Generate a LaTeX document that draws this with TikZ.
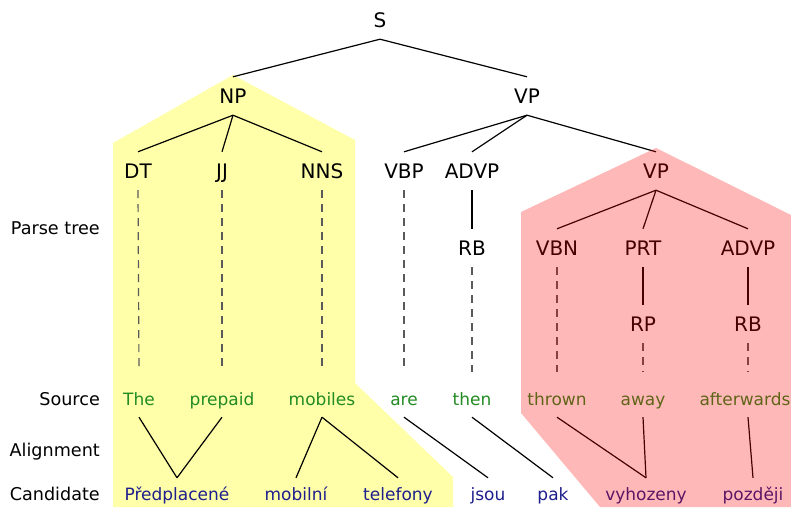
\documentclass[tikz,border=0pt]{standalone}
\usepackage{fontspec}
\setmainfont{DejaVu Sans}
\definecolor{srcgreen}{RGB}{34,139,34}
\definecolor{candblue}{RGB}{30,30,140}
\definecolor{yelfill}{RGB}{255,255,170}
\definecolor{dashgray}{RGB}{90,90,90}
\tikzset{
  tn/.style={font=\fontsize{20}{24}\selectfont, inner sep=0pt, text height=14.6pt, text depth=0pt, minimum height=38pt},
  src/.style={font=\fontsize{17}{20}\selectfont, text=srcgreen, inner sep=0pt, text height=12.4pt, text depth=0pt, minimum height=36pt},
  cand/.style={font=\fontsize{17}{20}\selectfont, text=candblue, inner sep=0pt, text height=12.4pt, text depth=0pt, minimum height=32pt},
  rowlab/.style={font=\fontsize{17.6}{21}\selectfont, anchor=east, inner sep=0pt, text height=12.8pt, text depth=0pt},
  treeedge/.style={line width=1.2pt},
  alignedge/.style={line width=1.2pt},
  dsh/.style={draw=dashgray, line width=1.2pt, dash pattern=on 8pt off 6pt},
}
\begin{document}
\begin{tikzpicture}[x=1pt,y=-1pt]
\useasboundingbox (0,0) rectangle (791,510);
% yellow region (behind)
\fill[yelfill] (233,75) -- (113,143) -- (113,507) -- (453,507) -- (453,477) -- (355,383) -- (355,140) -- cycle;
% tree nodes
\node[tn] (S) at (380,20) {S};
\node[tn] (NP) at (233,96) {NP};
\node[tn] (VP) at (527,96) {VP};
\node[tn] (DT) at (138,171) {DT};
\node[tn] (JJ) at (222,171) {JJ};
\node[tn] (NNS) at (322,171) {NNS};
\node[tn] (VBP) at (404,171) {VBP};
\node[tn] (ADVP) at (472,171) {ADVP};
\node[tn] (VPb) at (656,171) {VP};
\node[tn] (RB) at (472,248) {RB};
\node[tn] (VBN) at (557,248) {VBN};
\node[tn] (PRT) at (643,248) {PRT};
\node[tn] (ADVPb) at (748,248) {ADVP};
\node[tn] (RP) at (643,324) {RP};
\node[tn] (RBb) at (748,324) {RB};
% source words
\node[src] (w1) at (139,399) {The};
\node[src] (w2) at (222,399) {prepaid};
\node[src] (w3) at (322,399) {mobiles};
\node[src] (w4) at (404,399) {are};
\node[src] (w5) at (472,399) {then};
\node[src] (w6) at (557,399) {thrown};
\node[src] (w7) at (643,399) {away};
\node[src] (w8) at (745,399) {afterwards};
% candidate words
\node[cand] (c1) at (177,494) {Předplacené};
\node[cand] (c2) at (296,494) {mobilní};
\node[cand] (c3) at (398,494) {telefony};
\node[cand] (c4) at (488,494) {jsou};
\node[cand] (c5) at (553,494) {pak};
\node[cand] (c6) at (646,494) {vyhozeny};
\node[cand] (c7) at (753,494) {později};
% row labels
\node[rowlab] (l1) at (100,228) {Parse tree};
\node[rowlab] (l2) at (100,399) {Source};
\node[rowlab] (l3) at (100,450) {Alignment};
\node[rowlab] (l4) at (100,494) {Candidate};
% tree edges
\draw[treeedge] (S.south) -- (NP.north);
\draw[treeedge] (S.south) -- (VP.north);
\draw[treeedge] (NP.south) -- (DT.north);
\draw[treeedge] (NP.south) -- (JJ.north);
\draw[treeedge] (NP.south) -- (NNS.north);
\draw[treeedge] (VP.south) -- (VBP.north);
\draw[treeedge] (VP.south) -- (ADVP.north);
\draw[treeedge] (VP.south) -- (VPb.north);
\draw[treeedge] (ADVP.south) -- (RB.north);
\draw[treeedge] (VPb.south) -- (VBN.north);
\draw[treeedge] (VPb.south) -- (PRT.north);
\draw[treeedge] (VPb.south) -- (ADVPb.north);
\draw[treeedge] (PRT.south) -- (RP.north);
\draw[treeedge] (ADVPb.south) -- (RBb.north);
% dashed leaf links
\draw[dsh] (DT.south) -- ([yshift=9pt]w1.north);
\draw[dsh] (JJ.south) -- ([yshift=9pt]w2.north);
\draw[dsh] (NNS.south) -- ([yshift=9pt]w3.north);
\draw[dsh] (VBP.south) -- ([yshift=9pt]w4.north);
\draw[dsh] (RB.south) -- ([yshift=9pt]w5.north);
\draw[dsh] (VBN.south) -- ([yshift=9pt]w6.north);
\draw[dsh] (RP.south) -- ([yshift=9pt]w7.north);
\draw[dsh] (RBb.south) -- ([yshift=9pt]RBb.south |- w8.north);
% alignment links
\draw[alignedge] (w1.south) -- (c1.north);
\draw[alignedge] (w2.south) -- (c1.north);
\draw[alignedge] (w3.south) -- (c2.north);
\draw[alignedge] (w3.south) -- (c3.north);
\draw[alignedge] (w4.south) -- (c4.north);
\draw[alignedge] (w5.south) -- (c5.north);
\draw[alignedge] (w6.south) -- (c6.north);
\draw[alignedge] (w7.south) -- (c6.north);
\draw[alignedge] (RBb.south |- w8.south) -- (c7.north);
% red region (on top, translucent)
\fill[red, opacity=0.28] (656,148) -- (521,212) -- (521,413) -- (600,507) -- (791,507) -- (791,215) -- cycle;
\end{tikzpicture}
\end{document}
